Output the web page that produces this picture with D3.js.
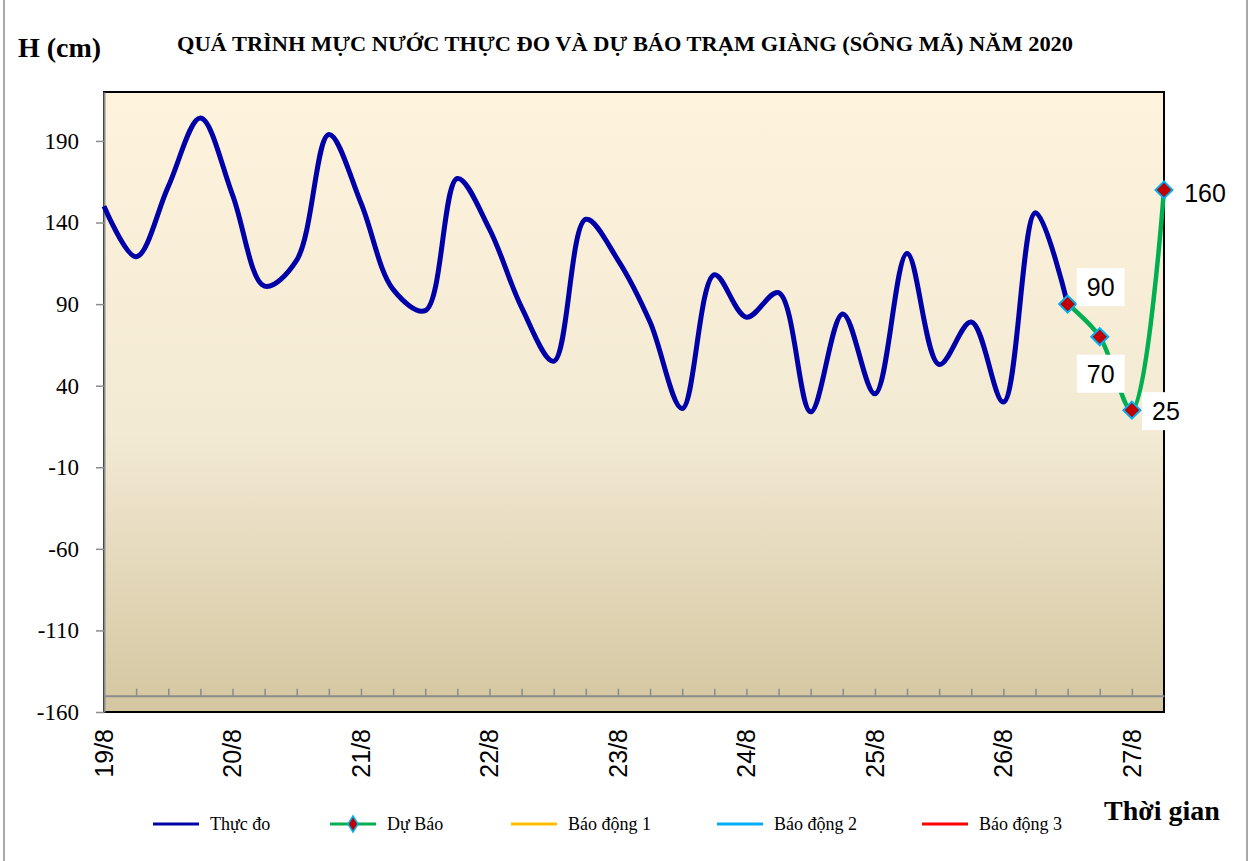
<!DOCTYPE html>
<html>
<head>
<meta charset="utf-8">
<script src="https://cdn.jsdelivr.net/npm/d3@7"></script>
<style>
  body { margin: 0; background: #fff; }
  svg { display: block; }
</style>
</head>
<body>
<div id="chart"></div>
<script>
// gio tinh tu dau ngay 19/8, moi diem cach nhau 6 gio
const gioThucDo = d3.range(0, 181, 6);
const thucDo = [150, 119, 162, 204, 157, 101, 117, 194, 152, 99,
                86, 167, 136, 88, 55, 142, 117, 79, 26, 108,
                82, 97, 24, 84, 35, 121, 53, 79, 30, 146, 90];
const gioDuBao = [180, 186, 192, 198];
const duBao = [90, 70, 25, 160];
const nhanNgay = ['19/8', '20/8', '21/8', '22/8', '23/8', '24/8', '25/8', '26/8', '27/8'];
const gioNhan = [0, 24, 48, 72, 96, 120, 144, 168, 192];
const mocY = [-160, -110, -60, -10, 40, 90, 140, 190];
const tenChuGiai = ['Thực đo', 'Dự Báo', 'Báo động 1', 'Báo động 2', 'Báo động 3'];
const mauChuGiai = ['#0000A8', '#00B050', '#FFC000', '#00B0F0', '#FF0000'];

const width = 1250, height = 861;
const serif = '"Liberation Serif", "Times New Roman", serif';
const sans = '"Liberation Sans", Arial, sans-serif';

const svg = d3.select('#chart')
  .append('svg')
    .attr('width', width)
    .attr('height', height);

// khung ngoai
svg.append('rect')
  .attr('x', 4).attr('y', -2)
  .attr('width', 1243).attr('height', 866)
  .attr('fill', '#fff')
  .attr('stroke', '#8c8c8c')
  .attr('stroke-width', 1.5);

const x = d3.scaleLinear().domain([0, 198]).range([104, 1164]);
const y = d3.scaleLinear().domain([-160, 220]).range([712, 92]);

// nen vung ve
const grad = svg.append('defs').append('linearGradient')
  .attr('id', 'nen').attr('x1', 0).attr('y1', 0).attr('x2', 0).attr('y2', 1);
grad.append('stop').attr('offset', '0%').attr('stop-color', '#FEF3DD');
grad.append('stop').attr('offset', '55%').attr('stop-color', '#F3EAD4');
grad.append('stop').attr('offset', '100%').attr('stop-color', '#D4C6A0');

svg.append('rect')
  .attr('x', x(0)).attr('y', y(220))
  .attr('width', x(198) - x(0)).attr('height', y(-160) - y(220))
  .attr('fill', 'url(#nen)')
  .attr('stroke', '#000')
  .attr('stroke-width', 2);

// truc hoanh (duong xam o muc -150)
const trucX = svg.append('g')
  .attr('transform', `translate(0,${y(-150)})`)
  .call(d3.axisTop(x)
    .tickValues(d3.range(6, 198, 6))
    .tickSizeInner(7)
    .tickSizeOuter(0)
    .tickFormat(''));
trucX.select('.domain').attr('stroke', '#8c8c8c').attr('stroke-width', 2);
trucX.selectAll('.tick line').attr('stroke', '#8c8c8c').attr('stroke-width', 1.5);

// truc tung
const trucY = svg.append('g')
  .attr('transform', `translate(${x(0)},0)`)
  .call(d3.axisLeft(y)
    .tickValues(mocY)
    .tickSizeInner(8)
    .tickSizeOuter(0)
    .tickPadding(17)
    .tickFormat(d => String(d)));
trucY.select('.domain').attr('stroke', '#8c8c8c').attr('stroke-width', 2);
trucY.selectAll('.tick line').attr('stroke', '#8c8c8c').attr('stroke-width', 1.5);
trucY.selectAll('.tick text')
  .attr('font-family', serif)
  .attr('font-size', 23)
  .attr('fill', '#000');

// nhan ngay xoay doc
svg.append('g').selectAll('text')
  .data(nhanNgay)
  .enter()
    .append('text')
    .attr('transform', (d, i) => `translate(${x(gioNhan[i])},729) rotate(-90)`)
    .attr('dy', '0.35em')
    .attr('text-anchor', 'end')
    .attr('font-family', sans)
    .attr('font-size', 25)
    .attr('fill', '#000')
    .text(d => d);

// duong thuc do
const duongCong = d3.line()
  .x(d => x(d[0]))
  .y(d => y(d[1]))
  .curve(d3.curveCatmullRom.alpha(0.5));

svg.append('path')
  .datum(gioThucDo.map((h, i) => [h, thucDo[i]]))
  .attr('d', duongCong)
  .attr('fill', 'none')
  .attr('stroke', mauChuGiai[0])
  .attr('stroke-width', 5)
  .attr('stroke-linejoin', 'round');

const diemDuBao = gioDuBao.map((h, i) => [h, duBao[i]]);

svg.append('path')
  .datum(diemDuBao)
  .attr('d', duongCong)
  .attr('fill', 'none')
  .attr('stroke', mauChuGiai[1])
  .attr('stroke-width', 4.5);

const hinhThoi = (cx, cy, rx, ry) =>
  `M${cx},${cy - ry}L${cx + rx},${cy}L${cx},${cy + ry}L${cx - rx},${cy}Z`;

svg.append('g').selectAll('path')
  .data(diemDuBao)
  .enter()
    .append('path')
    .attr('d', d => hinhThoi(x(d[0]), y(d[1]), 8.5, 8.5))
    .attr('fill', '#C00000')
    .attr('stroke', '#00B0F0')
    .attr('stroke-width', 2);

// nhan gia tri du bao (vi tri tuong doi so voi diem)
const lechNhan = [[33, -17], [1, 37], [34, 1], [41, 3]];
const nhanGiaTri = svg.append('g');
diemDuBao.forEach((d, i) => {
  const g = nhanGiaTri.append('g')
    .attr('transform', `translate(${x(d[0]) + lechNhan[i][0]},${y(d[1]) + lechNhan[i][1]})`);
  const t = g.append('text')
    .attr('text-anchor', 'middle')
    .attr('dy', '0.36em')
    .attr('font-family', sans)
    .attr('font-size', 25)
    .attr('fill', '#000')
    .text(d[1]);
  const b = t.node().getBBox();
  g.insert('rect', 'text')
    .attr('x', b.x - 10).attr('y', b.y - 5)
    .attr('width', b.width + 20).attr('height', b.height + 10)
    .attr('fill', '#fff');
});

// tieu de
svg.append('text')
  .attr('x', 18).attr('y', 57)
  .attr('font-family', serif)
  .attr('font-weight', 'bold')
  .attr('font-size', 28)
  .text('H (cm)');

svg.append('text')
  .attr('x', 625).attr('y', 51)
  .attr('text-anchor', 'middle')
  .attr('font-family', serif)
  .attr('font-weight', 'bold')
  .attr('font-size', 20)
  .attr('textLength', 896)
  .attr('lengthAdjust', 'spacingAndGlyphs')
  .text('QUÁ TRÌNH MỰC NƯỚC THỰC ĐO VÀ DỰ BÁO TRẠM GIÀNG (SÔNG MÃ) NĂM 2020');

svg.append('text')
  .attr('x', 1104).attr('y', 820)
  .attr('font-family', serif)
  .attr('font-weight', 'bold')
  .attr('font-size', 28)
  .text('Thời gian');

// chu giai
const viTriChuGiai = [153, 330, 511, 717, 922];
const chuGiai = svg.append('g').attr('transform', 'translate(0,824)');
tenChuGiai.forEach((ten, i) => {
  const g = chuGiai.append('g').attr('transform', `translate(${viTriChuGiai[i]},0)`);
  g.append('line')
    .attr('x1', 0).attr('x2', 46)
    .attr('stroke', mauChuGiai[i])
    .attr('stroke-width', 3);
  if (i === 1) {
    g.append('path')
      .attr('d', hinhThoi(23, 0, 5, 8))
      .attr('fill', '#C00000')
      .attr('stroke', '#00B0F0')
      .attr('stroke-width', 1.5);
  }
  g.append('text')
    .attr('x', 57).attr('y', 6)
    .attr('font-family', serif)
    .attr('font-size', 18)
    .attr('fill', '#000')
    .text(ten);
});
</script>
</body>
</html>
